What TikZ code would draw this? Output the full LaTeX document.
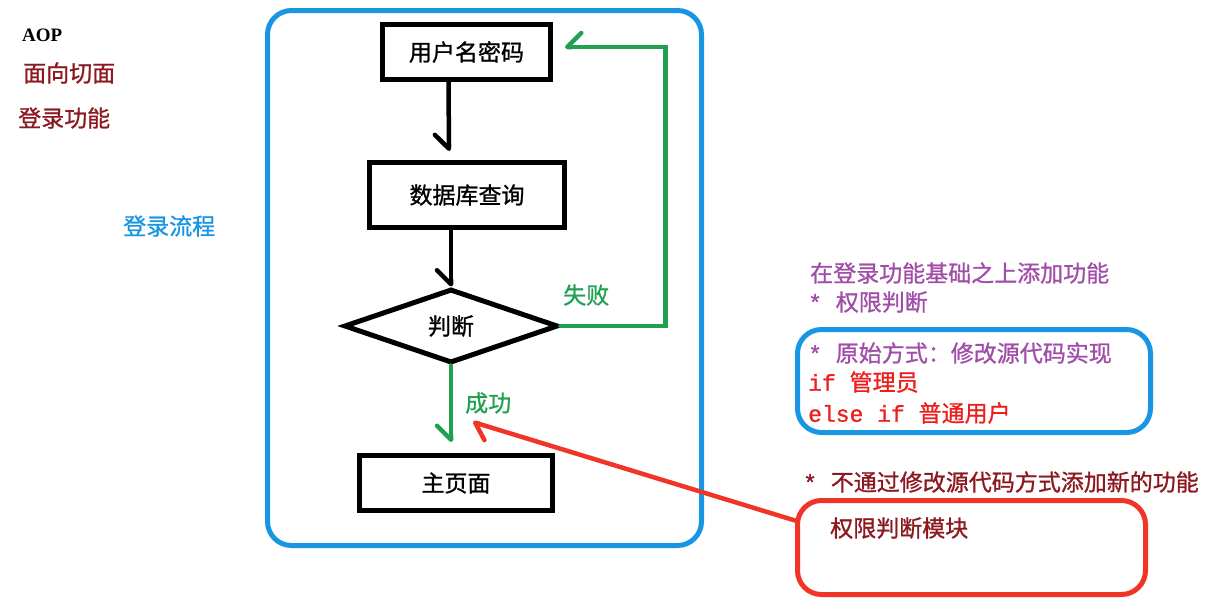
\documentclass[tikz,border=0pt]{standalone}
\usepackage{fontspec}
\setmainfont{Noto Sans CJK SC}[FakeBold=1]
\setmonofont{Liberation Mono}[FakeBold=1]
\newfontfamily\latinserif{Liberation Serif}
\usetikzlibrary{positioning,arrows.meta,calc,shapes.geometric}

\definecolor{frameblue}{RGB}{24,150,228}
\definecolor{okgreen}{RGB}{32,160,80}
\definecolor{alertred}{RGB}{240,52,40}
\definecolor{darkred}{RGB}{140,24,32}
\definecolor{plum}{RGB}{160,78,168}
\definecolor{codered}{RGB}{236,30,30}

\begin{document}
\begin{tikzpicture}[
  x=1pt, y=-1pt,
  font=\fontsize{23}{27}\selectfont,
  block/.style={draw, line width=5pt, inner sep=0pt},
  frame/.style={draw=#1, line width=5pt, rounded corners=24pt, inner sep=0pt},
  arr/.style={line width=4.5pt, line cap=round, -{Straight Barb[#1, length=14pt, width=28pt, round]}},
  arr/.default=right,
  note/.style={anchor=west, inner sep=0pt}
]
\useasboundingbox (0,0) rectangle (1227,603);

% frames
\node[frame=frameblue, minimum width=434pt, minimum height=535pt] (flow) at (484.5,278) {};
\node[frame=frameblue, minimum width=353pt, minimum height=103pt] (oldway) at (974,381) {};
\node[frame=alertred, minimum width=348pt, minimum height=94pt] (module) at (971.5,547.5) {};

% flow nodes
\node[block, minimum width=168pt, minimum height=55pt] (user) at (466.5,52) {用户名密码};
\node[block, minimum width=195pt, minimum height=65pt] (query) at (467,195) {数据库查询};
\node[block, diamond, minimum width=214pt, minimum height=74pt] (judge) at (451,326) {判断};
\node[block, minimum width=193pt, minimum height=55pt] (home) at (456,483) {主页面};

% arrows with labels
\draw[arr] ([xshift=-18pt]user.south) -- ([xshift=-18pt, yshift=9pt]query.north);
\draw[arr] (query.south -| judge.north) -- (judge.north);
\draw[arr, okgreen] (judge.east) -- ++(105,0) |- ([xshift=12pt, yshift=5pt]user.east);
\draw[arr, okgreen] (judge.south) -- ([yshift=11pt]home.north -| judge.south);
\node[note, text=okgreen] (fail) at (563,295) {失败};
\node[note, text=okgreen] (ok) at (465,403) {成功};

\coordinate (hit) at (473,422);
\draw[arr=left, alertred] ([yshift=27pt]module.west) -- (hit);

% left notes
\node[note, font=\latinserif\bfseries\fontsize{19}{23}\selectfont] (aop) at (22,35) {AOP};
\node[note, text=darkred] (aspect) at (23,73) {面向切面};
\node[note, text=darkred] (login) at (18,118) {登录功能};
\node[note, text=frameblue] (flowtitle) at (123,226) {登录流程};

% right notes
\node[note, text=plum] (extra) at (810,273) {在登录功能基础之上添加功能};
\node[note, text=plum] (perm) at (808,302) {\texttt{* }权限判断};
\node[note, text=plum] (orig) at (808,353) {\texttt{* }原始方式：修改源代码实现};
\node[note, text=codered] (ifadmin) at (808,382) {\texttt{if }管理员};
\node[note, text=codered] (elseuser) at (808,413) {\texttt{else if }普通用户};
\node[note, text=darkred] (nomod) at (803,482) {\texttt{* }不通过修改源代码方式添加新的功能};
\node[note, text=darkred] (modtxt) at (830,528) {权限判断模块};

\end{tikzpicture}
\end{document}
